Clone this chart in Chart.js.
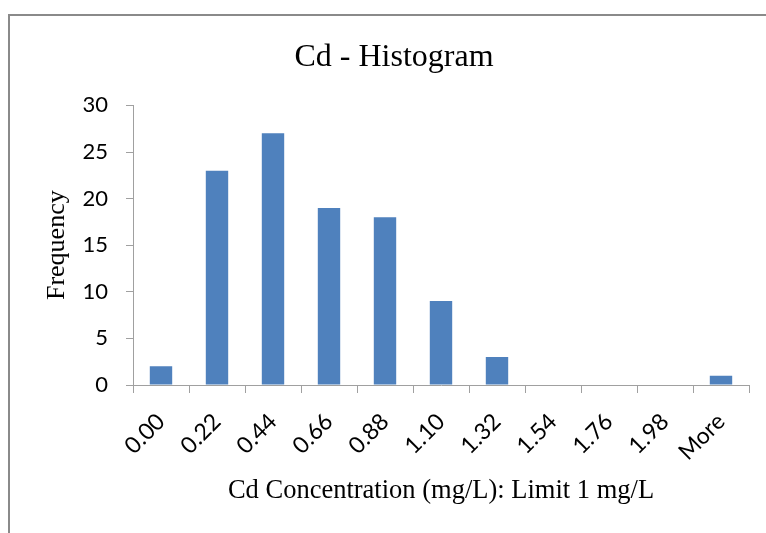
<!DOCTYPE html>
<html>
<head>
<meta charset="utf-8">
<title>Cd - Histogram</title>
<script src="https://cdn.jsdelivr.net/npm/chart.js@4.4.1/dist/chart.umd.min.js"></script>
<style>
  html, body { margin: 0; padding: 0; background: #fff; }
  #wrap { position: relative; width: 766px; height: 533px; overflow: hidden; }
  #frame {
    position: absolute; left: 8px; top: 14px; width: 800px; height: 600px;
    border-top: 2px solid #8a8a8a; border-left: 2px solid #8a8a8a;
    box-sizing: border-box;
  }
  #c { position: absolute; left: 0; top: 0; }
</style>
</head>
<body>
<div id="wrap">
  <div id="frame"></div>
  <canvas id="c" width="766" height="533"></canvas>
</div>
<script>
// Histogram bins (upper bin edges, mg/L) and their counts
const bins = ['0.00', '0.22', '0.44', '0.66', '0.88', '1.10', '1.32', '1.54', '1.76', '1.98', 'More'];
const frequency = [2, 23, 27, 19, 18, 9, 3, 0, 0, 0, 1];
const yTicks = [0, 5, 10, 15, 20, 25, 30];

const chartTitle = 'Cd - Histogram';
const xTitle = 'Cd Concentration (mg/L): Limit 1 mg/L';
const yTitle = 'Frequency';

const serif = '"Liberation Serif", "Times New Roman", serif';
const sans = 'Lato, "Liberation Sans", sans-serif';
const axisGray = '#a0a0a0';

new Chart(document.getElementById('c'), {
  type: 'bar',
  data: {
    labels: bins,
    datasets: [{
      label: 'Frequency',
      data: frequency,
      backgroundColor: '#4f81bd',
      borderWidth: 0,
      barPercentage: 0.4,
      categoryPercentage: 1.0
    }]
  },
  options: {
    responsive: false,
    devicePixelRatio: 1,
    animation: false,
    layout: { padding: { left: 39, right: 17, top: 0, bottom: 0 } },
    plugins: {
      legend: { display: false },
      tooltip: { enabled: false },
      title: {
        display: true,
        text: chartTitle,
        color: '#000',
        font: { family: serif, size: 32, weight: 'normal' },
        padding: { top: 38, bottom: 29 }
      }
    },
    scales: {
      x: {
        offset: true,
        grid: {
          display: true,
          offset: true,
          drawOnChartArea: false,
          drawTicks: true,
          tickLength: 8,
          color: axisGray
        },
        border: { display: true, color: axisGray, width: 1 },
        ticks: {
          color: '#000',
          font: { family: sans, size: 23 },
          minRotation: 45,
          maxRotation: 45,
          padding: 15,
          autoSkip: false
        },
        title: {
          display: true,
          text: xTitle,
          color: '#000',
          font: { family: serif, size: 26.5, weight: 'normal' },
          padding: { top: 0, bottom: 26 }
        },
        afterFit: (s) => { s.height = 533 - 385; }
      },
      y: {
        min: 0,
        max: 30,
        afterBuildTicks: (s) => { s.ticks = yTicks.map(v => ({ value: v })); },
        grid: {
          display: true,
          drawOnChartArea: false,
          drawTicks: true,
          tickLength: 7,
          color: axisGray
        },
        border: { display: true, color: axisGray, width: 1 },
        ticks: {
          color: '#000',
          font: { family: sans, size: 22 },
          padding: 18
        },
        title: {
          display: true,
          text: yTitle,
          color: '#000',
          font: { family: serif, size: 26, weight: 'normal' },
          padding: { top: 3, bottom: 0 }
        },
        afterFit: (s) => { s.width = 133 - 39; }
      }
    }
  }
});
</script>
</body>
</html>
